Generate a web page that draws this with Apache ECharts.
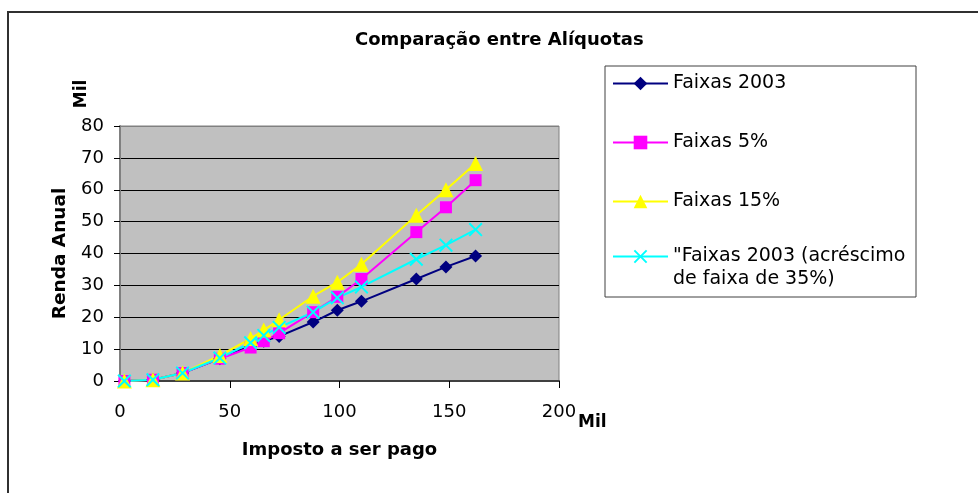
<!DOCTYPE html>
<html><head><meta charset="utf-8">
<script src="https://cdn.jsdelivr.net/npm/echarts@6/dist/echarts.min.js"></script>
<style>html,body{margin:0;padding:0;background:#fff}#c{width:978px;height:493px}</style>
</head><body><div id="c"></div>
<script>
const chartTitle = 'Comparação entre Alíquotas';
const xAxisTitle = 'Imposto a ser pago';
const yAxisTitle = 'Renda Anual';
const unitLabel = 'Mil';
const seriesNames = ['Faixas 2003', 'Faixas 5%', 'Faixas 15%', '"Faixas 2003 (acréscimo de faixa de 35%)'];
const xTickValues = [0, 50, 100, 150, 200];
const yTickValues = [0, 10, 20, 30, 40, 50, 60, 70, 80];
const impostoX   = [2, 15, 28.5, 45.5, 59.5, 65.5, 72.5, 88, 99, 110, 135, 148.5, 162];
const faixas2003 = [0, 0.4, 2.5, 7, 11, 12.5, 14, 18.5, 22.2, 25, 32, 35.8, 39.2];
const faixas5    = [0, 0.4, 2.5, 7, 10.5, 12.5, 15, 21.6, 26.4, 32, 46.7, 54.5, 63];
const faixas15   = [0, 0.4, 2.5, 8, 13.3, 16, 19.2, 26.6, 31, 36.6, 52, 60, 68.2];
const faixas2003b= [0, 0.4, 2.5, 7.2, 12, 14.3, 16.8, 21.6, 26.1, 29.5, 38.2, 42.6, 47.5];

const seriesValues = [faixas2003, faixas5, faixas15, faixas2003b];
const colors = ['#000080', '#FF00FF', '#FFFF00', '#00FFFF'];
const symbols = ['diamond', 'rect', 'triangle',
  'path://M0,1L1,0L5,4L9,0L10,1L6,5L10,9L9,10L5,6L1,10L0,9L4,5Z'];
const symbolSizes = [13, 12, 15, 14];

const FONT = 'DejaVu Sans';
const chart = echarts.init(document.getElementById('c'), null, {renderer: 'canvas'});

const splitColors = yTickValues.map((v, i) => i === yTickValues.length - 1 ? '#808080' : '#000000');

const option = {
  animation: false,
  backgroundColor: '#ffffff',
  title: {
    text: chartTitle,
    left: 355, top: 31, padding: 0,
    textStyle: {fontFamily: FONT, fontSize: 18, fontWeight: 'bold', color: '#000'}
  },
  grid: {
    left: 120, top: 126, width: 439, height: 255,
    show: true, backgroundColor: '#C0C0C0', borderColor: '#808080', borderWidth: 1
  },
  xAxis: {
    type: 'value',
    min: xTickValues[0], max: xTickValues[xTickValues.length - 1],
    interval: xTickValues[1] - xTickValues[0],
    name: xAxisTitle, nameLocation: 'middle', nameGap: 60,
    nameTextStyle: {fontFamily: FONT, fontSize: 18, fontWeight: 'bold', color: '#000'},
    axisLine: {show: true, lineStyle: {color: '#404040', width: 2}},
    axisTick: {show: true, length: 7, lineStyle: {color: '#000', width: 1}},
    axisLabel: {fontFamily: FONT, fontSize: 18, color: '#000', margin: 22},
    splitLine: {show: false}
  },
  yAxis: {
    type: 'value',
    min: yTickValues[0], max: yTickValues[yTickValues.length - 1],
    interval: yTickValues[1] - yTickValues[0],
    name: yAxisTitle, nameLocation: 'middle', nameGap: 50,
    nameTextStyle: {fontFamily: FONT, fontSize: 18.5, fontWeight: 'bold', color: '#000'},
    axisLine: {show: true, lineStyle: {color: '#808080', width: 2}},
    axisTick: {show: true, length: 6, lineStyle: {color: '#000', width: 1}},
    axisLabel: {fontFamily: FONT, fontSize: 18, color: '#000', margin: 16},
    splitLine: {show: true, lineStyle: {color: splitColors, width: 1}}
  },
  legend: [
    {
      data: seriesNames.slice(0, 3),
      orient: 'vertical', left: 612, top: 72, padding: 0,
      itemWidth: 55, itemHeight: 17, itemGap: 36, selectedMode: false,
      textStyle: {fontFamily: FONT, fontSize: 19, color: '#000', lineHeight: 23}
    },
    {
      data: [seriesNames[3]],
      orient: 'vertical', left: 612, top: 222, padding: 0,
      itemWidth: 55, itemHeight: 17, selectedMode: false,
      formatter: n => '\n' + n.replace('(acréscimo ', '(acréscimo\n'),
      textStyle: {fontFamily: FONT, fontSize: 19, color: '#000', lineHeight: 23}
    }
  ],
  graphic: [
    {type: 'rect', z: -10, silent: true,
     shape: {x: 8, y: 12, width: 1000, height: 520},
     style: {fill: 'none', stroke: '#303030', lineWidth: 2}},
    {type: 'rect', z: 1, silent: true,
     shape: {x: 605, y: 66, width: 311, height: 231},
     style: {fill: '#ffffff', stroke: '#404040', lineWidth: 1}},
    {type: 'text', silent: true, x: 82, y: 94, rotation: Math.PI / 2,
     style: {text: unitLabel, font: 'bold 17px "DejaVu Sans"', fill: '#000',
             align: 'center', verticalAlign: 'middle', textAlign: 'center', textVerticalAlign: 'middle'}},
    {type: 'text', silent: true, x: 578, y: 423,
     style: {text: unitLabel, font: 'bold 17px "DejaVu Sans"', fill: '#000',
             align: 'left', verticalAlign: 'middle', textAlign: 'left', textVerticalAlign: 'middle'}}
  ],
  series: seriesNames.map((name, i) => ({
    name: name,
    type: 'line',
    data: impostoX.map((x, j) => [x, seriesValues[i][j]]),
    symbol: symbols[i],
    symbolSize: symbolSizes[i],
    showAllSymbol: true,
    lineStyle: {color: colors[i], width: 2},
    itemStyle: {color: colors[i], borderWidth: 0},
    emphasis: {disabled: true},
    clip: false
  }))
};
chart.setOption(option);
</script>
</body></html>
